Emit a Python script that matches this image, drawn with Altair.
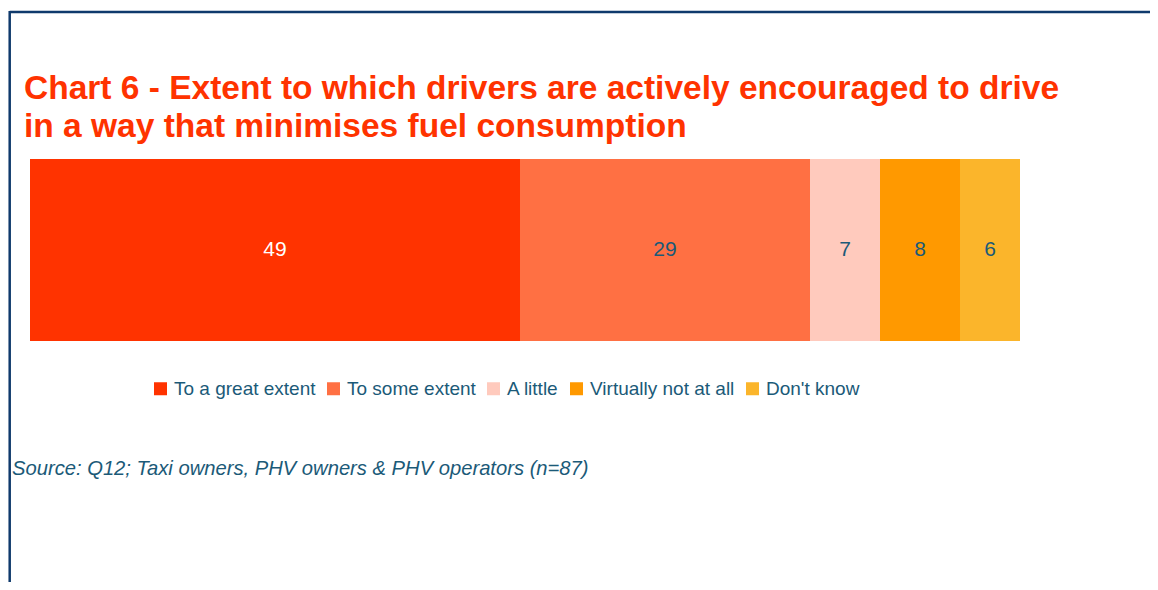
import altair as alt
import pandas as pd

CATEGORIES = ["To a great extent", "To some extent", "A little", "Virtually not at all", "Don't know"]
VALUES = [49, 29, 7, 8, 6]
COLORS = ["#FF3300", "#FF7043", "#FFCABD", "#FF9900", "#FBB52B"]
TITLE_LINES = [
    "Chart 6 - Extent to which drivers are actively encouraged to drive",
    "in a way that minimises fuel consumption",
]
SOURCE = "Source: Q12; Taxi owners, PHV owners & PHV operators (n=87)"

TEAL = "#1B5A78"
NAVY = "#0F3A6C"
FONT = "Liberation Sans"
W, H = 1142, 574

df = pd.DataFrame({
    "category": CATEGORIES,
    "value": VALUES,
    "idx": list(range(len(CATEGORIES))),
    "row": ["all"] * len(CATEGORIES),
})
one = pd.DataFrame({"a": [0]})

xscale = alt.Scale(domain=[0, 100], range=[22, 1022])
yscale = alt.Scale(range=[151, 333], paddingInner=0, paddingOuter=0)

bars = alt.Chart(df).mark_bar(stroke=None).encode(
    x=alt.X("value:Q", stack="zero", scale=xscale, axis=None),
    y=alt.Y("row:N", scale=yscale, axis=None),
    order=alt.Order("idx:Q"),
    color=alt.Color(
        "category:N",
        sort=CATEGORIES,
        scale=alt.Scale(domain=CATEGORIES, range=COLORS),
        legend=alt.Legend(
            title=None,
            orient="none",
            direction="horizontal",
            legendX=143,
            legendY=371,
            padding=0,
            symbolType="square",
            symbolSize=169,
            symbolStrokeWidth=0,
            symbolOpacity=1,
            labelFont=FONT,
            labelFontSize=19,
            labelColor=TEAL,
            labelOffset=4,
            columnPadding=8,
            labelLimit=400,
        ),
    ),
)

labels = alt.Chart(df).transform_window(
    cum="sum(value)", sort=[alt.SortField("idx")], frame=[None, 0]
).transform_calculate(
    mid="datum.cum - datum.value / 2"
).mark_text(font=FONT, fontSize=21, baseline="middle", align="center").encode(
    x=alt.X("mid:Q", scale=xscale, axis=None),
    y=alt.Y("row:N", scale=yscale, axis=None),
    text=alt.Text("value:Q"),
    color=alt.condition(alt.datum.idx == 0, alt.value("white"), alt.value(TEAL)),
)

frame_h = alt.Chart(one).mark_rule(color=NAVY, strokeWidth=2.5).encode(
    x=alt.value(1.7), x2=alt.value(W), y=alt.value(4)
)
frame_v = alt.Chart(one).mark_rule(color=NAVY, strokeWidth=2.5).encode(
    x=alt.value(1.7), y=alt.value(3), y2=alt.value(H)
)

title = alt.Chart(one).mark_text(
    text=TITLE_LINES, font=FONT, fontSize=33.5, fontWeight="bold", color="#FF3300",
    align="left", baseline="alphabetic", lineHeight=38,
).encode(x=alt.value(16), y=alt.value(91))

source = alt.Chart(one).mark_text(
    text=SOURCE, font=FONT, fontSize=20.2, fontStyle="italic", color=TEAL,
    align="left", baseline="alphabetic",
).encode(x=alt.value(4), y=alt.value(467))

chart = alt.layer(frame_h, frame_v, bars, labels, title, source).properties(
    width=W, height=H, padding=0, autosize=alt.AutoSizeParams(type="none")
).configure_view(stroke=None)

chart.save("out.html", embed_options={"renderer": "svg", "actions": False})
